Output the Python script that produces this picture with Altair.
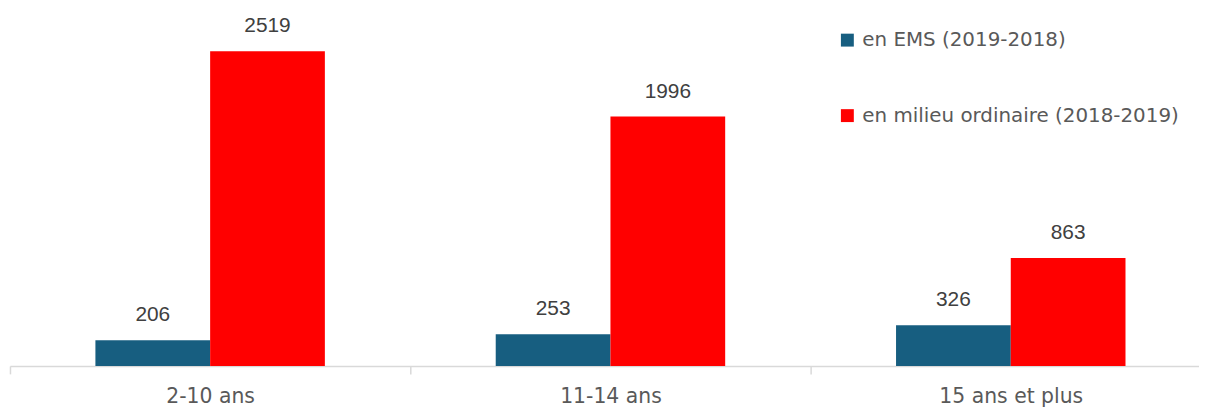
import altair as alt
import pandas as pd

categories = ["2-10 ans", "11-14 ans", "15 ans et plus"]
series = ["en EMS (2019-2018)", "en milieu ordinaire (2018-2019)"]
ems = [206, 253, 326]
ordinaire = [2519, 1996, 863]
colors = ["#175E80", "#FF0000"]

rows = []
for i, c in enumerate(categories):
    rows.append({"cat": c, "serie": series[0], "val": ems[i]})
    rows.append({"cat": c, "serie": series[1], "val": ordinaire[i]})
df = pd.DataFrame(rows)

LFONT = "DejaVu Sans"
x = alt.X("cat:N", sort=categories, title=None,
          scale=alt.Scale(range=[0, 1209], paddingInner=0, paddingOuter=0),
          axis=alt.Axis(labelAngle=0, labelFont=LFONT, labelFontSize=20.5, labelColor="#595959",
                        labelPadding=13, tickBand="extent", tickSize=8, tickColor="#D9D9D9",
                        domainColor="#D9D9D9", domainWidth=1.5, tickWidth=1.5))
xo = alt.XOffset("serie:N", sort=series, scale=alt.Scale(paddingInner=0, paddingOuter=0.7446))
y = alt.Y("val:Q", scale=alt.Scale(domain=[0, 2838], nice=False), axis=None)

bars = alt.Chart(df).mark_bar().encode(
    x=x, xOffset=xo, y=y,
    color=alt.Color("serie:N", sort=series, scale=alt.Scale(domain=series, range=colors),
                    legend=alt.Legend(title=None, orient="none", legendX=833, legendY=19,
                                      symbolType="square", symbolSize=169, symbolStrokeWidth=0,
                                      labelFont=LFONT, labelFontSize=20, labelColor="#595959",
                                      labelLimit=0, rowPadding=56, labelOffset=5, padding=0)),
)
labels = alt.Chart(df).mark_text(baseline="alphabetic", dy=-19, font="Liberation Sans",
                                 fontSize=21, color="#404040").encode(
    x=x, xOffset=xo, y=y, text=alt.Text("val:Q"))

chart = alt.layer(bars, labels).properties(
    width=1197, height=357,
    autosize=alt.AutoSizeParams(type="none"),
    padding={"left": 2, "top": 2, "right": 0, "bottom": 40},
).configure_view(stroke=None)

chart.save("out.html", embed_options={"renderer": "svg", "actions": False})
